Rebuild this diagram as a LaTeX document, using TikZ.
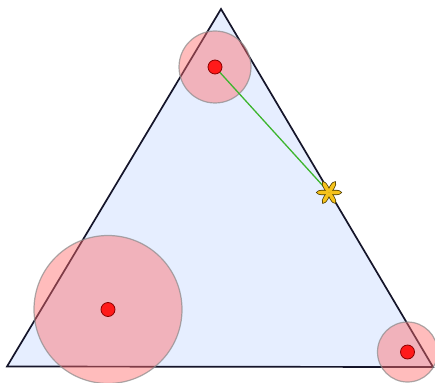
\documentclass[tikz,border=0pt]{standalone}
\usetikzlibrary{calc}
\definecolor{trifill}{HTML}{E6EEFF}
\definecolor{triline}{HTML}{15152A}
\definecolor{pinkfill}{HTML}{FF6A6A}
\definecolor{ringline}{HTML}{8A8A8A}
\definecolor{dotred}{HTML}{FF1A1A}
\definecolor{dotline}{HTML}{8A0000}
\definecolor{linkgreen}{HTML}{3DB52E}
\definecolor{staryellow}{HTML}{F5C21B}
\definecolor{starline}{HTML}{4A3A00}
\tikzset{
  tri/.style={fill=trifill, draw=triline, line width=1.7pt, line join=miter},
  zone/.style={circle, fill=pinkfill, fill opacity=0.45, draw=ringline, draw opacity=0.7, line width=1.2pt, inner sep=0pt},
  reddot/.style={circle, fill=dotred, draw=dotline, line width=0.8pt, minimum size=14pt, inner sep=0pt},
  link/.style={draw=linkgreen, line width=1.3pt},
  petalout/.style={draw=starline, line width=1.5pt},
  petalin/.style={fill=staryellow}
}
\begin{document}
\begin{tikzpicture}[x=1pt,y=-1pt]
\useasboundingbox (0,0) rectangle (435,382);
% triangle
\coordinate (T) at (221,9);
\coordinate (L) at (7,366.5);
\coordinate (R) at (433,367);
\draw[tri] (T) -- (L) -- (R) -- cycle;
% zones
\node[zone, minimum size=72pt] (zA) at (215,67) {};
\node[zone, minimum size=148pt] (zB) at (108,309.5) {};
\node[zone, minimum size=60pt] (zC) at (407.5,352) {};
% link
\coordinate (A) at (215,67);
\coordinate (S) at (329,192.5);
\draw[link] (A) -- (S);
% red dots
\node[reddot] (dA) at (A) {};
\node[reddot] (dB) at (zB.center) {};
\node[reddot] (dC) at (zC.center) {};
% star
\foreach \a in {0,60,120,180,240,300}{
  \path[petalout, shift={(S)}, rotate=\a] (6,0) ellipse[x radius=6, y radius=1.9];
}
\foreach \a in {0,60,120,180,240,300}{
  \path[petalin, shift={(S)}, rotate=\a] (6,0) ellipse[x radius=6, y radius=1.9];
}
\end{tikzpicture}
\end{document}
